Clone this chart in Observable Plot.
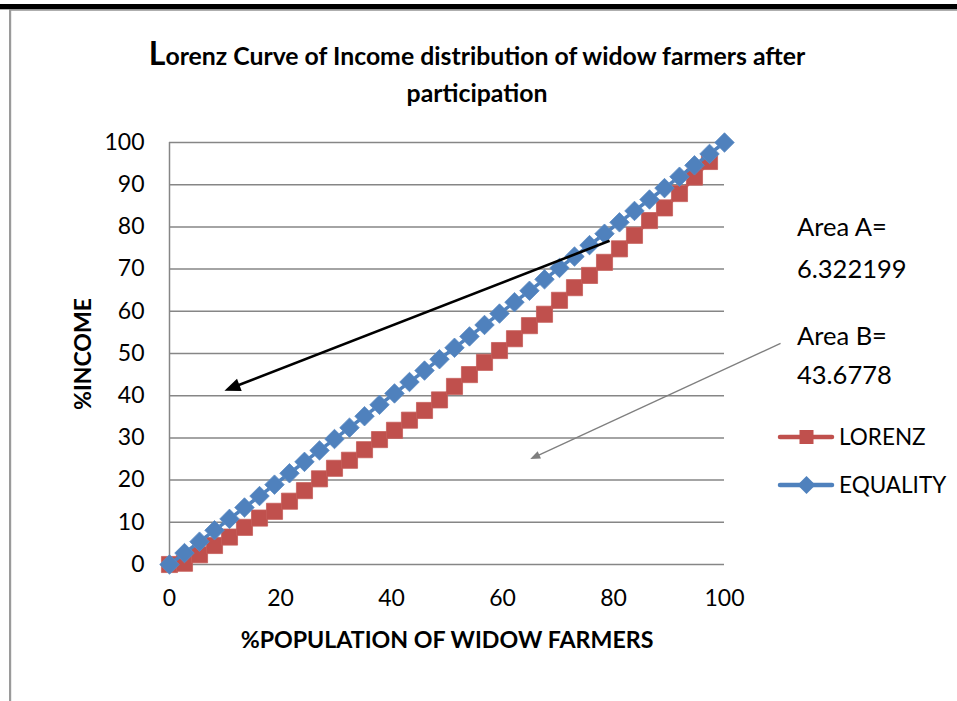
<!DOCTYPE html>
<html><head><meta charset="utf-8">
<script src="https://cdn.jsdelivr.net/npm/d3@7"></script>
<script src="https://cdn.jsdelivr.net/npm/@observablehq/plot@0.6"></script>
<style>
html,body{margin:0;padding:0;background:#fff;}
#wrap{position:relative;width:957px;height:701px;overflow:hidden;background:#fff;}
#chart{position:absolute;left:0;top:0;}
#overlay{position:absolute;left:0;top:0;}
</style></head><body>
<div id="wrap"><div id="chart"></div><svg id="overlay" width="957" height="701"></svg></div>
<script>
// ---- data ----
const population = [0, 2.70, 5.41, 8.11, 10.81, 13.51, 16.22, 18.92, 21.62, 24.32, 27.03, 29.73, 32.43, 35.14, 37.84, 40.54, 43.24, 45.95, 48.65, 51.35, 54.05, 56.76, 59.46, 62.16, 64.86, 67.57, 70.27, 72.97, 75.68, 78.38, 81.08, 83.78, 86.49, 89.19, 91.89, 94.59, 97.30, 100];
// Lorenz markers visible up to the 97.3 % point
const lorenz = [0, 0.3, 2.3, 4.5, 6.5, 8.8, 11.0, 12.6, 15.0, 17.5, 20.3, 22.8, 24.7, 27.2, 29.6, 31.8, 34.2, 36.5, 39.0, 42.2, 45.0, 47.9, 50.7, 53.5, 56.6, 59.3, 62.6, 65.6, 68.5, 71.6, 74.8, 78.0, 81.5, 84.5, 87.9, 91.8, 95.5];
const equality = [0, 2.70, 5.41, 8.11, 10.81, 13.51, 16.22, 18.92, 21.62, 24.32, 27.03, 29.73, 32.43, 35.14, 37.84, 40.54, 43.24, 45.95, 48.65, 51.35, 54.05, 56.76, 59.46, 62.16, 64.86, 67.57, 70.27, 72.97, 75.68, 78.38, 81.08, 83.78, 86.49, 89.19, 91.89, 94.59, 97.30, 100];
const xTicks = [0, 20, 40, 60, 80, 100];
const yTicks = [0, 10, 20, 30, 40, 50, 60, 70, 80, 90, 100];
const seriesNames = ["LORENZ", "EQUALITY"];
const titleLines = ["Lorenz Curve of Income distribution of widow farmers after", "participation"];
const xTitle = "%POPULATION OF WIDOW FARMERS";
const yTitle = "%INCOME";
const areaLabels = [["Area A=", "6.322199"], ["Area B=", "43.6778"]];
// annotation arrows (start -> tip), in data units
const arrowA = {x1: 79.3, y1: 76.7, x2: 9.9, y2: 41.2};
const arrowB = {x1: 110.1, y1: 52.4, x2: 65.0, y2: 25.0};

// ---- styles / layout ----
const RED = "#C0504D", BLUE = "#4F81BD", GRID = "#868686";
const FONT = "Lato, 'Open Sans', sans-serif";
const W = 957, H = 701, mL = 169, mR = 233, mT = 142, mB = 137;
const kx = (W - mL - mR) / 100, ky = (H - mT - mB) / 100;

const lorenzRows = lorenz.map((v, i) => ({p: population[i], v}));
const equalityRows = equality.map((v, i) => ({p: population[i], v}));

function dir(a) {
  let dx = (a.x2 - a.x1) * kx, dy = -(a.y2 - a.y1) * ky;
  const n = Math.hypot(dx, dy);
  return [dx / n, dy / n];
}
function headSymbol(a, L, w) {
  const [dx, dy] = dir(a);
  return {draw(ctx) {
    ctx.moveTo(0, 0);
    ctx.lineTo(-L * dx - w * dy, -L * dy + w * dx);
    ctx.lineTo(-L * dx + w * dy, -L * dy - w * dx);
    ctx.closePath();
  }};
}
function arrowMarks(a, color, width, L, w) {
  const [dx, dy] = dir(a);
  const back = L * 0.7;
  return [
    Plot.link([a], {x1: "x1", y1: "y1", x2: d => d.x2 - back * dx / kx, y2: d => d.y2 + back * dy / ky,
      stroke: color, strokeWidth: width}),
    Plot.dot([a], {x: "x2", y: "y2", symbol: headSymbol(a, L, w), r: 5, fill: color, stroke: "none"})
  ];
}

const chart = Plot.plot({
  width: W, height: H,
  marginLeft: mL, marginRight: mR, marginTop: mT, marginBottom: mB,
  style: {fontFamily: FONT, fontSize: "23px", background: "transparent", color: "#000", overflow: "visible"},
  x: {domain: [0, 100], axis: null},
  y: {domain: [0, 100], axis: null},
  marks: [
    Plot.gridY(yTicks, {stroke: GRID, strokeOpacity: 1, strokeWidth: 1.5}),
    Plot.ruleX([0], {stroke: GRID, strokeWidth: 1.5}),
    Plot.axisY(yTicks, {tickSize: 0, tickPadding: 25, fontSize: 23, label: null, fill: "#000"}),
    Plot.axisX(xTicks, {tickSize: 0, tickPadding: 25, fontSize: 23, label: null, fill: "#000"}),
    Plot.line(lorenzRows, {x: "p", y: "v", stroke: RED, strokeWidth: 3.5}),
    Plot.dot(lorenzRows, {x: "p", y: "v", symbol: "square", r: 9.1, fill: RED, stroke: "#C75E5B", strokeWidth: 0.8}),
    Plot.line(equalityRows, {x: "p", y: "v", stroke: BLUE, strokeWidth: 3.5}),
    Plot.dot(equalityRows, {x: "p", y: "v", symbol: "diamond2", r: 8.8, fill: BLUE, stroke: "#5A8AC4", strokeWidth: 0.8}),
    ...arrowMarks(arrowA, "#000", 2.6, 16, 6.5),
    ...arrowMarks(arrowB, "#7F7F7F", 1.3, 10, 4)
  ]
});
document.getElementById("chart").appendChild(chart);

// ---- overlay: frame, title, axis titles, legend, annotation text ----
const ov = d3.select("#overlay").style("font-family", FONT);
ov.append("rect").attr("x", 0).attr("y", 4).attr("width", W).attr("height", 5.3).attr("fill", "#000");
ov.append("rect").attr("x", 9).attr("y", 9.3).attr("width", W - 9).attr("height", 1.4).attr("fill", "#8c8c8c");
ov.append("rect").attr("x", 9).attr("y", 9.3).attr("width", 2.2).attr("height", H).attr("fill", "#9a9a9a");

const t1 = ov.append("text").attr("x", 477).attr("y", 65).attr("text-anchor", "middle")
  .attr("font-weight", "bold").attr("font-size", 24.8);
t1.append("tspan").attr("font-size", 32).text(titleLines[0][0]);
t1.append("tspan").text(titleLines[0].slice(1));
ov.append("text").attr("x", 477).attr("y", 102).attr("text-anchor", "middle")
  .attr("font-weight", "bold").attr("font-size", 24.8).text(titleLines[1]);

ov.append("text").attr("x", 447).attr("y", 648).attr("text-anchor", "middle")
  .attr("font-weight", "bold").attr("font-size", 23.2).text(xTitle);
ov.append("text").attr("transform", "translate(91,354) rotate(-90)").attr("text-anchor", "middle")
  .attr("font-weight", "bold").attr("font-size", 23).text(yTitle);

// annotation text
const annY = [[236, 278], [345, 384]];
areaLabels.forEach((pair, i) => {
  pair.forEach((s, j) => {
    ov.append("text").attr("x", 797).attr("y", annY[i][j]).attr("font-size", 25.5).text(s);
  });
});

// legend
const legY = [437, 485];
seriesNames.forEach((name, i) => {
  const g = ov.append("g");
  const c = i === 0 ? RED : BLUE;
  g.append("line").attr("x1", 780).attr("x2", 832).attr("y1", legY[i]).attr("y2", legY[i])
    .attr("stroke", c).attr("stroke-width", 4.5).attr("stroke-linecap", "round");
  if (i === 0) {
    g.append("rect").attr("x", 799.5).attr("y", legY[i] - 7).attr("width", 14).attr("height", 14).attr("fill", c);
  } else {
    g.append("path").attr("d", `M806.5,${legY[i]-9}L815.5,${legY[i]}L806.5,${legY[i]+9}L797.5,${legY[i]}Z`).attr("fill", c);
  }
  g.append("text").attr("x", 839).attr("y", legY[i] + 8).attr("font-size", 22.5).text(name);
});
</script>
</body></html>
